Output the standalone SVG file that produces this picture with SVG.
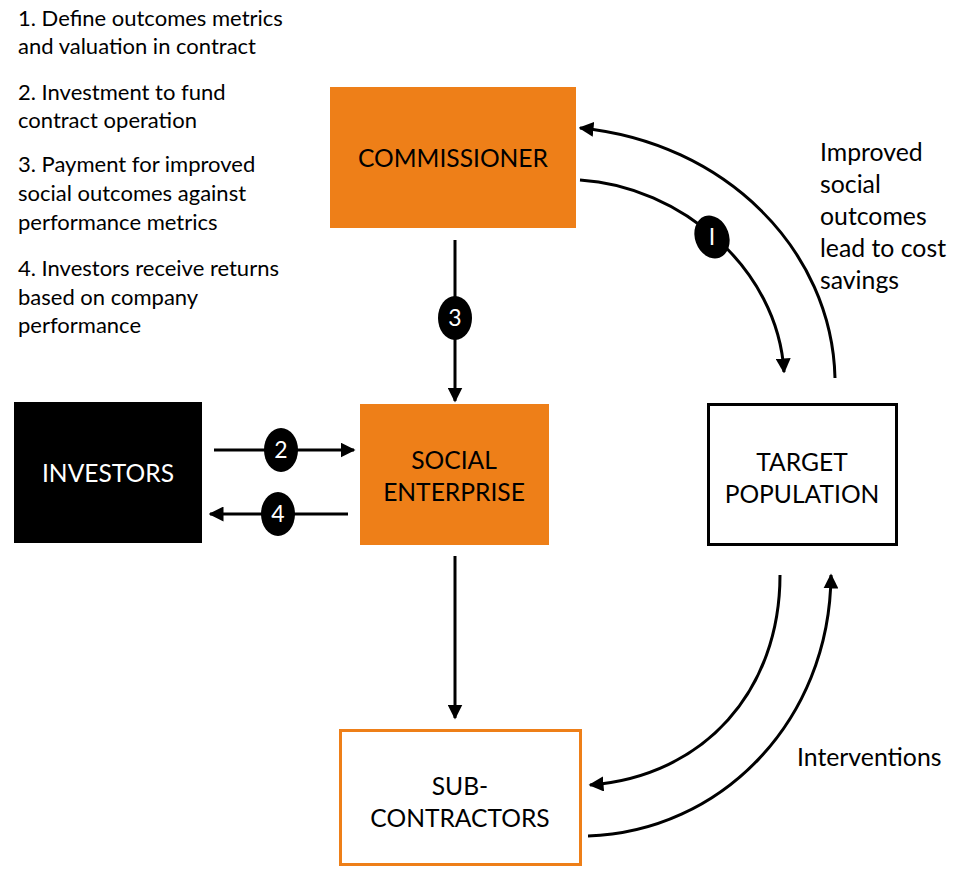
<svg xmlns="http://www.w3.org/2000/svg" width="953" height="869" viewBox="0 0 953 869">
<defs>
<marker id="ah" viewBox="0 0 10 10" refX="9" refY="5" markerWidth="5" markerHeight="5" markerUnits="strokeWidth" orient="auto">
<path d="M0,0 L10,5 L0,10 z" fill="#000"/>
</marker>
<style>
text{font-family:Lato,"Open Sans","Liberation Sans",sans-serif;fill:#000}
.note{font-size:22px}
.lbl{font-size:24.8px}
.box{font-size:24.6px;text-anchor:middle}
.conn{fill:none;stroke:#000;stroke-width:3;marker-end:url(#ah)}
.badge{fill:#000}
.bt{font-size:23px;fill:#fff;text-anchor:middle}
.orange{fill:#EE7F18}
</style>
</defs>
<rect width="953" height="869" fill="#fff"/>
<g id="notes">
<text class="note" x="18" y="26">1. Define outcomes metrics</text>
<text class="note" x="18" y="54">and valuation in contract</text>
<text class="note" x="18" y="100">2. Investment to fund</text>
<text class="note" x="18" y="128">contract operation</text>
<text class="note" x="18" y="172">3. Payment for improved</text>
<text class="note" x="18" y="201">social outcomes against</text>
<text class="note" x="18" y="230">performance metrics</text>
<text class="note" x="18" y="276">4. Investors receive returns</text>
<text class="note" x="18" y="305">based on company</text>
<text class="note" x="18" y="333">performance</text>
</g>
<g id="commissioner">
<rect class="orange" x="330" y="87" width="246" height="141"/>
<text class="box" x="453" y="167">COMMISSIONER</text>
</g>
<g id="social-enterprise">
<rect class="orange" x="360" y="404" width="189" height="141"/>
<text class="box" x="454" y="469">SOCIAL</text>
<text class="box" x="454" y="501">ENTERPRISE</text>
</g>
<g id="investors">
<rect x="14" y="402" width="188" height="141" fill="#000"/>
<text class="box" x="108" y="482" style="fill:#fff">INVESTORS</text>
</g>
<g id="target-population">
<rect x="708.5" y="404.5" width="188" height="140" fill="#fff" stroke="#000" stroke-width="3"/>
<text class="box" x="802" y="471">TARGET</text>
<text class="box" x="802" y="503">POPULATION</text>
</g>
<g id="sub-contractors">
<rect x="340.5" y="730.5" width="240" height="134" fill="#fff" stroke="#EE7F18" stroke-width="3"/>
<text class="box" x="460" y="795">SUB-</text>
<text class="box" x="460" y="827">CONTRACTORS</text>
</g>
<g id="connectors">
<path class="conn" d="M455,240 L455,401"/>
<path class="conn" d="M214,450 L354,450"/>
<path class="conn" d="M348,514 L210,514"/>
<path class="conn" d="M455,556 L455,718"/>
<path class="conn" d="M580,180 C680,186 778,268 784,372"/>
<path class="conn" d="M835,378 C832,250 725,142 580,128"/>
<path class="conn" d="M780,575 C780,690 705,776 590,785"/>
<path class="conn" d="M588,836 C720,832 830,722 831,575"/>
</g>
<g id="badges">
<ellipse class="badge" cx="455" cy="318" rx="17" ry="22"/>
<text class="bt" x="455" y="326">3</text>
<ellipse class="badge" cx="281" cy="450" rx="17" ry="22"/>
<text class="bt" x="281" y="458">2</text>
<ellipse class="badge" cx="278" cy="514" rx="17" ry="22"/>
<text class="bt" x="278" y="522">4</text>
<ellipse class="badge" cx="712" cy="237" rx="17" ry="22" transform="rotate(-20 712 237)"/>
<text class="bt" x="712" y="245">I</text>
</g>
<g id="labels">
<text class="lbl" x="820" y="161">Improved</text>
<text class="lbl" x="820" y="193">social</text>
<text class="lbl" x="820" y="225">outcomes</text>
<text class="lbl" x="820" y="257">lead to cost</text>
<text class="lbl" x="820" y="289">savings</text>
<text class="lbl" x="797" y="766">Interventions</text>
</g>
</svg>
